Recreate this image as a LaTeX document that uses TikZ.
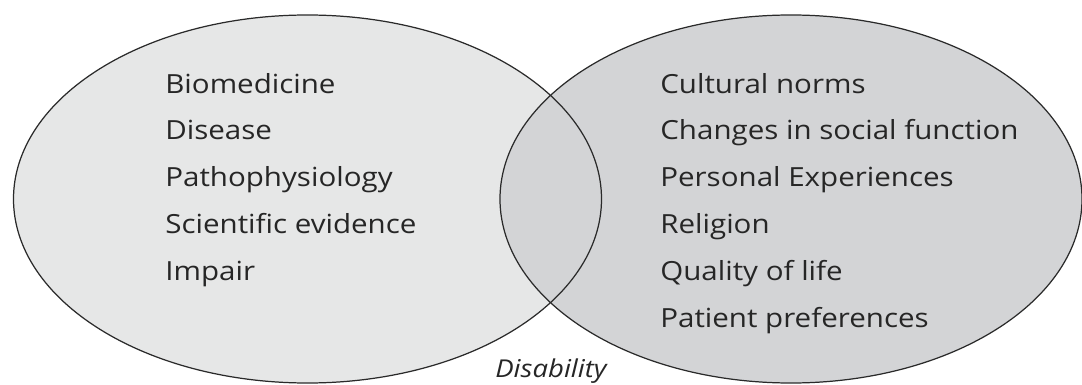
\documentclass[tikz,border=0pt]{standalone}
\usepackage{fontspec}
\setmainfont{Open Sans}[FakeStretch=1.12]
\usetikzlibrary{positioning}

\definecolor{leftgrey}{HTML}{E6E7E7}
\definecolor{rightgrey}{HTML}{D3D4D6}
\definecolor{rim}{HTML}{2A2A2A}

\tikzset{
  item/.style={anchor=base west, inner sep=0pt, font=\fontsize{15}{18}\selectfont, text=black!85},
  rimline/.style={draw=rim, line width=0.7pt},
}

\begin{document}
\begin{tikzpicture}[x=0.02cm, y=-0.02cm, node distance=0.94cm]
    \useasboundingbox (0,0) rectangle (1082,385);
    \coordinate (med) at (307.5,199);
    \coordinate (soc) at (791,199);

    % the two sets
    \fill[leftgrey] (med) ellipse [x radius=294, y radius=184];
    \fill[rightgrey] (soc) ellipse [x radius=291, y radius=184];
    \path[rimline] (med) ellipse [x radius=294, y radius=184];
    \path[rimline] (soc) ellipse [x radius=291, y radius=184];

    % biomedical side
    \node[item] (bio) at (165,93) {Biomedicine};
    \node[item, below=of bio.base west, anchor=base west] (dis) {Disease};
    \node[item, below=of dis.base west, anchor=base west] (path) {Pathophysiology};
    \node[item, below=of path.base west, anchor=base west] (sci) {Scientific evidence};
    \node[item, below=of sci.base west, anchor=base west] (imp) {Impair};

    % social side
    \node[item] (cult) at (660,93) {Cultural norms};
    \node[item, below=of cult.base west, anchor=base west] (chg) {Changes in social function};
    \node[item, below=of chg.base west, anchor=base west] (pers) {Personal Experiences};
    \node[item, below=of pers.base west, anchor=base west] (rel) {Religion};
    \node[item, below=of rel.base west, anchor=base west] (qol) {Quality of life};
    \node[item, below=of qol.base west, anchor=base west] (pref) {Patient preferences};

    \node[item, anchor=base, font=\fontsize{14}{17}\selectfont\itshape] (dsb) at (551,377) {Disability};
  \end{tikzpicture}
\end{document}
